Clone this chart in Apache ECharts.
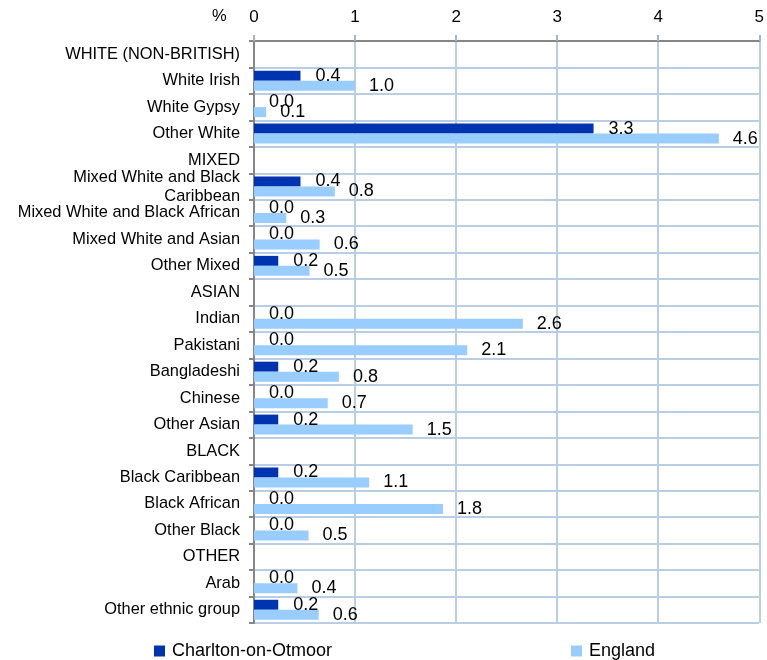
<!DOCTYPE html>
<html>
<head>
<meta charset="utf-8">
<script src="https://cdn.jsdelivr.net/npm/echarts@6/dist/echarts.min.js"></script>
<style>
html,body{margin:0;padding:0;background:#fff;}
#chart{width:767px;height:660px;}
</style>
</head>
<body>
<div id="chart"></div>
<script>
const categories = [
  'WHITE (NON-BRITISH)', 'White Irish', 'White Gypsy', 'Other White',
  'MIXED', 'Mixed White and Black\nCaribbean', 'Mixed White and Black African', 'Mixed White and Asian', 'Other Mixed',
  'ASIAN', 'Indian', 'Pakistani', 'Bangladeshi', 'Chinese', 'Other Asian',
  'BLACK', 'Black Caribbean', 'Black African', 'Other Black',
  'OTHER', 'Arab', 'Other ethnic group'
];
const charltonValues = [
  null, 0.46, 0, 3.36,
  null, 0.46, 0, 0, 0.24,
  null, 0, 0, 0.24, 0, 0.24,
  null, 0.24, 0, 0,
  null, 0, 0.24
];
const englandValues = [
  null, 1.0, 0.12, 4.6,
  null, 0.80, 0.32, 0.65, 0.55,
  null, 2.66, 2.11, 0.84, 0.73, 1.57,
  null, 1.14, 1.87, 0.54,
  null, 0.43, 0.64
];
const charltonLabels = [
  '', '0.4', '0.0', '3.3',
  '', '0.4', '0.0', '0.0', '0.2',
  '', '0.0', '0.0', '0.2', '0.0', '0.2',
  '', '0.2', '0.0', '0.0',
  '', '0.0', '0.2'
];
const englandLabels = [
  '', '1.0', '0.1', '4.6',
  '', '0.8', '0.3', '0.6', '0.5',
  '', '2.6', '2.1', '0.8', '0.7', '1.5',
  '', '1.1', '1.8', '0.5',
  '', '0.4', '0.6'
];
const xTicks = [0, 1, 2, 3, 4, 5];

const FONT = '"Liberation Sans", Arial, sans-serif';
const chart = echarts.init(document.getElementById('chart'));
chart.setOption({
  animation: false,
  textStyle: { fontFamily: FONT },
  grid: { left: 254, right: 7, top: 41, bottom: 37, containLabel: false },
  graphic: [{
    type: 'text', left: 212, top: 8,
    style: { text: '%', fontSize: 16.5, fontFamily: FONT, fill: '#000' }
  }],
  legend: [{
    data: ['Charlton-on-Otmoor'], left: 154, top: 642, padding: 0, itemGap: 0,
    itemWidth: 11, itemHeight: 11, icon: 'rect',
    textStyle: { fontSize: 18, color: '#000', fontFamily: FONT, padding: [0, 0, 0, 2] }
  }, {
    data: ['England'], left: 571, top: 642, padding: 0, itemGap: 0,
    itemWidth: 11, itemHeight: 11, icon: 'rect',
    textStyle: { fontSize: 18, color: '#000', fontFamily: FONT, padding: [0, 0, 0, 2] }
  }],
  xAxis: {
    type: 'value', position: 'top', min: xTicks[0], max: xTicks[xTicks.length - 1], interval: 1,
    axisLine: { show: true, lineStyle: { color: '#868686', width: 2 } },
    axisTick: { show: true, length: 6, lineStyle: { color: '#A3B5CF', width: 2 } },
    axisLabel: { fontSize: 17, color: '#000', margin: 15, fontFamily: FONT },
    splitLine: { show: true, lineStyle: { color: '#B9CDE5', width: 2 } }
  },
  yAxis: {
    type: 'category', inverse: true, data: categories,
    axisLine: { show: true, lineStyle: { color: '#868686', width: 2 } },
    axisTick: { show: true, length: 5, lineStyle: { color: '#868686', width: 2 } },
    axisLabel: { fontSize: 16.4, color: '#000', margin: 14, lineHeight: 19, fontFamily: FONT },
    splitLine: { show: true, lineStyle: { color: '#B9CDE5', width: 2 } }
  },
  series: [{
    name: 'Charlton-on-Otmoor', type: 'bar', data: charltonValues,
    barWidth: 10, barGap: '0%',
    itemStyle: { color: '#0033B0' },
    label: {
      show: true, position: 'right', distance: 15, fontSize: 18, color: '#000', fontFamily: FONT,
      formatter: p => charltonLabels[p.dataIndex]
    }
  }, {
    name: 'England', type: 'bar', data: englandValues,
    barWidth: 10, barGap: '0%',
    itemStyle: { color: '#99CCFF' },
    label: {
      show: true, position: 'right', distance: 14, fontSize: 18, color: '#000', fontFamily: FONT,
      formatter: p => englandLabels[p.dataIndex]
    }
  }]
});
</script>
</body>
</html>
